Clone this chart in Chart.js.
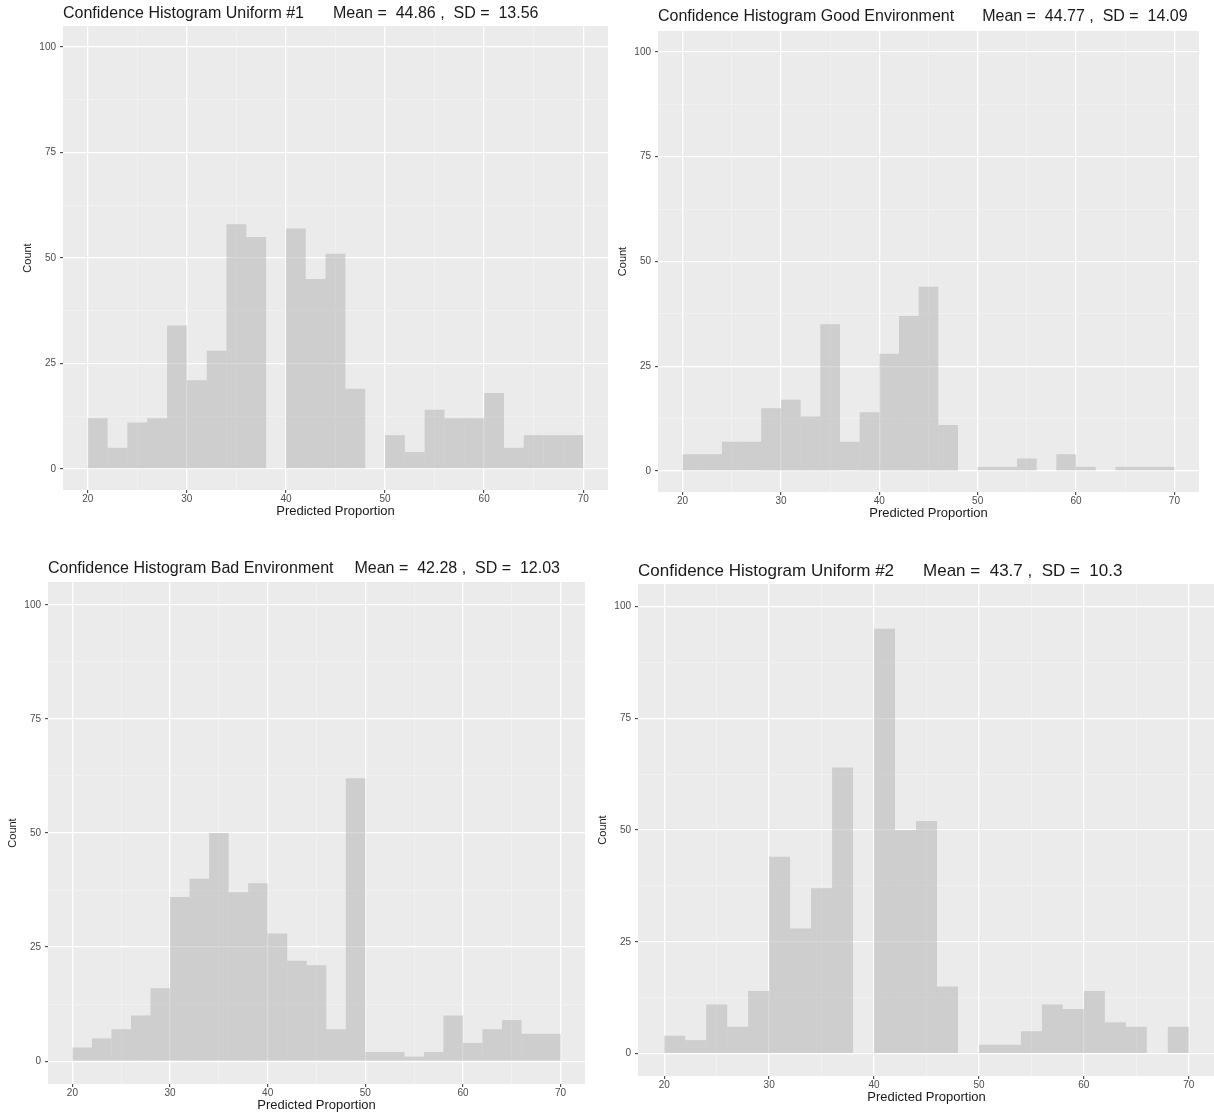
<!DOCTYPE html>
<html>
<head>
<meta charset="utf-8">
<title>Confidence Histograms</title>
<script src="https://cdn.jsdelivr.net/npm/chart.js@4.4.1/dist/chart.umd.min.js"></script>
<style>
  html, body { margin: 0; padding: 0; background: #ffffff; width: 1214px; height: 1114px; overflow: hidden; }
  canvas.panel { position: absolute; }
</style>
</head>
<body>
<canvas id="c1" class="panel"></canvas>
<canvas id="c2" class="panel"></canvas>
<canvas id="c3" class="panel"></canvas>
<canvas id="c4" class="panel"></canvas>
<script>
// Histogram bins: left edges, each bin is 2 units wide (20 .. 70)
const binLeft = [20, 22, 24, 26, 28, 30, 32, 34, 36, 38, 40, 42, 44, 46, 48, 50, 52, 54, 56, 58, 60, 62, 64, 66, 68];
const binWidth = 2;

// Counts per bin for each condition
const countsUniform1 = [12, 5, 11, 12, 34, 21, 28, 58, 55, 0, 57, 45, 51, 19, 0, 8, 4, 14, 12, 12, 18, 5, 8, 8, 8];
const countsGood     = [4, 4, 7, 7, 15, 17, 13, 35, 7, 14, 28, 37, 44, 11, 0, 1, 1, 3, 0, 4, 1, 0, 1, 1, 1];
const countsBad      = [3, 5, 7, 10, 16, 36, 40, 50, 37, 39, 28, 22, 21, 7, 62, 2, 2, 1, 2, 10, 4, 7, 9, 6, 6];
const countsUniform2 = [4, 3, 11, 6, 14, 44, 28, 37, 64, 0, 95, 50, 52, 15, 0, 2, 2, 5, 11, 10, 14, 7, 6, 0, 6];

// Panel titles and summary statistics
const panelNames = [
  'Confidence Histogram Uniform #1',
  'Confidence Histogram Good Environment',
  'Confidence Histogram Bad Environment',
  'Confidence Histogram Uniform #2'
];
const panelMeans = ['44.86', '44.77', '42.28', '43.7'];
const panelSDs   = ['13.56', '14.09', '12.03', '10.3'];

// Axis ticks (major ones carry labels, minor ones only a faint grid line)
const xTickValues = [20, 25, 30, 35, 40, 45, 50, 55, 60, 65, 70];
const xMajorTicks = [20, 30, 40, 50, 60, 70];
const yTickValues = [0, 12.5, 25, 37.5, 50, 62.5, 75, 87.5, 100];
const yMajorTicks = [0, 25, 50, 75, 100];

const xLabel = 'Predicted Proportion';
const yLabel = 'Count';

// Page placement of each panel's plotting area
const panels = [
  { id: 'c1', counts: countsUniform1, L: 63,  R: 608,  T: 26,  B: 490,  titleDy: 12, titleSize: 16, gap: 29 },
  { id: 'c2', counts: countsGood,     L: 658, R: 1199, T: 31,  B: 492,  titleDy: 14, titleSize: 16, gap: 28 },
  { id: 'c3', counts: countsBad,      L: 48,  R: 585,  T: 582, B: 1084, titleDy: 13, titleSize: 16, gap: 21 },
  { id: 'c4', counts: countsUniform2, L: 638, R: 1215, T: 584, B: 1076, titleDy: 13, titleSize: 17, gap: 29 }
];

const FONT = '"Liberation Sans", Arial, Helvetica, sans-serif';
const PAD_LEFT = 70, PAD_TOP = 30, PAD_RIGHT = 20, PAD_BOTTOM = 40;

// Grey panel background behind the grid
const panelBackground = {
  id: 'panelBackground',
  beforeDraw(chart) {
    const { ctx, chartArea: a } = chart;
    ctx.save();
    ctx.fillStyle = '#ebebeb';
    ctx.fillRect(a.left, a.top, a.right - a.left, a.bottom - a.top);
    ctx.restore();
  }
};

// Left-aligned title: name, then the summary statistics
const panelTitle = {
  id: 'panelTitle',
  afterDraw(chart, args, opts) {
    const { ctx, chartArea: a } = chart;
    ctx.save();
    ctx.font = opts.size + 'px ' + FONT;
    ctx.fillStyle = '#1a1a1a';
    ctx.textBaseline = 'middle';
    ctx.textAlign = 'left';
    const y = a.top - opts.dy;
    ctx.fillText(opts.name, a.left, y);
    const w = ctx.measureText(opts.name).width;
    ctx.fillText(opts.stats, a.left + w + opts.gap, y);
    ctx.restore();
  }
};

panels.forEach((p, i) => {
  const canvas = document.getElementById(p.id);
  const w = (p.R - p.L) + PAD_LEFT + PAD_RIGHT;
  const h = (p.B - p.T) + PAD_TOP + PAD_BOTTOM;
  canvas.width = w;
  canvas.height = h;
  canvas.style.width = w + 'px';
  canvas.style.height = h + 'px';
  canvas.style.left = (p.L - PAD_LEFT) + 'px';
  canvas.style.top = (p.T - PAD_TOP) + 'px';

  const data = binLeft.map((left, k) => ({ x: left + binWidth / 2, y: p.counts[k] }));

  new Chart(canvas, {
    type: 'bar',
    data: {
      datasets: [{
        data: data,
        backgroundColor: 'rgba(177,177,177,0.5)',
        borderWidth: 0,
        inflateAmount: 0,
        barPercentage: 1,
        categoryPercentage: 1
      }]
    },
    options: {
      responsive: false,
      animation: false,
      devicePixelRatio: 1,
      layout: { padding: { left: 0, top: PAD_TOP, right: PAD_RIGHT, bottom: 0 } },
      plugins: {
        legend: { display: false },
        tooltip: { enabled: false },
        title: { display: false },
        panelTitle: {
          name: panelNames[i],
          stats: 'Mean =  ' + panelMeans[i] + ' ,  SD =  ' + panelSDs[i],
          size: p.titleSize,
          dy: p.titleDy,
          gap: p.gap
        }
      },
      scales: {
        x: {
          type: 'linear',
          min: 17.5,
          max: 72.5,
          offset: false,
          afterBuildTicks: (s) => { s.ticks = xTickValues.map(v => ({ value: v })); },
          afterFit: (s) => { s.height = PAD_BOTTOM; },
          ticks: {
            autoSkip: false,
            maxRotation: 0,
            padding: 0,
            font: { family: FONT, size: 10 },
            color: '#4d4d4d',
            callback: (v) => xMajorTicks.includes(v) ? String(v) : ''
          },
          grid: {
            offset: false,
            drawTicks: true,
            tickLength: 3,
            color: (c) => (c.tick && xMajorTicks.includes(c.tick.value)) ? '#ffffff' : '#f4f4f4',
            lineWidth: (c) => (c.tick && xMajorTicks.includes(c.tick.value)) ? 1.3 : 0.7,
            tickColor: (c) => (c.tick && xMajorTicks.includes(c.tick.value)) ? '#333333' : 'rgba(0,0,0,0)',
            tickWidth: 1
          },
          border: { display: false },
          title: {
            display: true,
            text: xLabel,
            font: { family: FONT, size: 13 },
            color: '#1a1a1a',
            padding: { top: 0, bottom: 11 }
          }
        },
        y: {
          type: 'linear',
          min: -5,
          max: 105,
          afterBuildTicks: (s) => { s.ticks = yTickValues.map(v => ({ value: v })); },
          afterFit: (s) => { s.width = PAD_LEFT; },
          ticks: {
            autoSkip: false,
            padding: 4,
            font: { family: FONT, size: 10 },
            color: '#4d4d4d',
            callback: (v) => yMajorTicks.includes(v) ? String(v) : ''
          },
          grid: {
            drawTicks: true,
            tickLength: 3,
            color: (c) => (c.tick && yMajorTicks.includes(c.tick.value)) ? '#ffffff' : '#f4f4f4',
            lineWidth: (c) => (c.tick && yMajorTicks.includes(c.tick.value)) ? 1.3 : 0.7,
            tickColor: (c) => (c.tick && yMajorTicks.includes(c.tick.value)) ? '#333333' : 'rgba(0,0,0,0)',
            tickWidth: 1
          },
          border: { display: false },
          title: {
            display: true,
            text: yLabel,
            font: { family: FONT, size: 11 },
            color: '#1a1a1a',
            padding: { top: 28.4, bottom: 0 }
          }
        }
      }
    },
    plugins: [panelBackground, panelTitle]
  });
});
</script>
</body>
</html>
